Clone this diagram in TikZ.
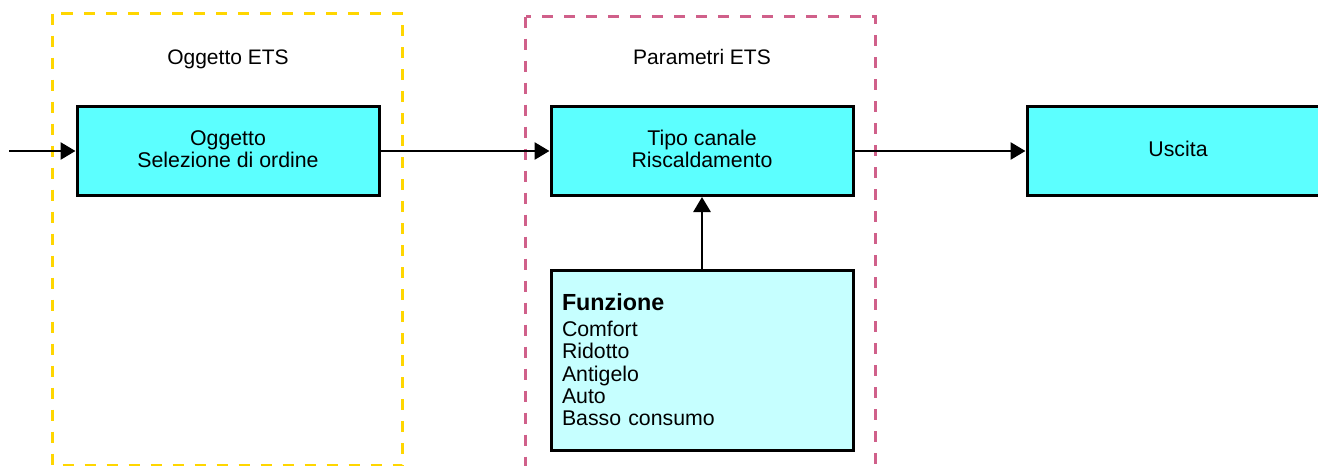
\documentclass[tikz,border=0pt]{standalone}
\usepackage{fontspec}
\setmainfont{Liberation Sans}
\usetikzlibrary{arrows.meta}
\definecolor{ygold}{RGB}{255,214,0}
\definecolor{pinkd}{RGB}{208,96,138}
\definecolor{cyanbox}{RGB}{92,255,255}
\definecolor{lightcyan}{RGB}{198,255,255}
\tikzset{
  grp/.style={line width=2.8pt, dash pattern=on 11pt off 11pt},
  blk/.style={draw=black, line width=3pt, fill=cyanbox, minimum width=302pt, minimum height=89pt, align=center, inner sep=0pt,
    text depth=4pt, font=\fontsize{21.3}{22.2}\selectfont},
  fbox/.style={draw=black, line width=3pt, fill=lightcyan, minimum width=302pt, minimum height=180pt, text width=280pt, align=left, inner xsep=11pt, inner ysep=0pt,
    font=\fontsize{21.3}{22.4}\selectfont},
  lbl/.style={font=\fontsize{21}{24}\selectfont, anchor=base, inner sep=0pt},
  arr/.style={line width=2.8pt, -{Triangle[length=15pt,width=17pt]}}
}
\begin{document}
\begin{tikzpicture}[x=1pt,y=-1pt]
\useasboundingbox (0,0) rectangle (1318,466);
\draw[grp, draw=ygold] (52.5,13.5) rectangle (402.5,465.5);
\draw[grp, draw=pinkd] (525.5,16.5) rectangle (875.5,472);
\node[lbl] (l1) at (228,64) {Oggetto ETS};
\node[lbl] (l2) at (702,64) {Parametri ETS};
\coordinate (in) at (9,151);
\node[blk] (b1) at (228,151) {Oggetto\\Selezione di ordine};
\node[blk] (b2) at (702,151) {Tipo canale\\Riscaldamento};
\node[blk] (b3) at (1178,151) {Uscita};
\node[fbox] (f) at (702,360) {{\fontsize{23.3}{26}\selectfont\bfseries Funzione}\\[3pt]Comfort\\Ridotto\\Antigelo\\Auto\\Basso consumo};
\draw[arr] (in) -- (b1.west);
\draw[arr] (b1.east) -- (b2.west);
\draw[arr] (b2.east) -- (b3.west);
\draw[arr] (f.north) -- (b2.south);
\end{tikzpicture}
\end{document}
